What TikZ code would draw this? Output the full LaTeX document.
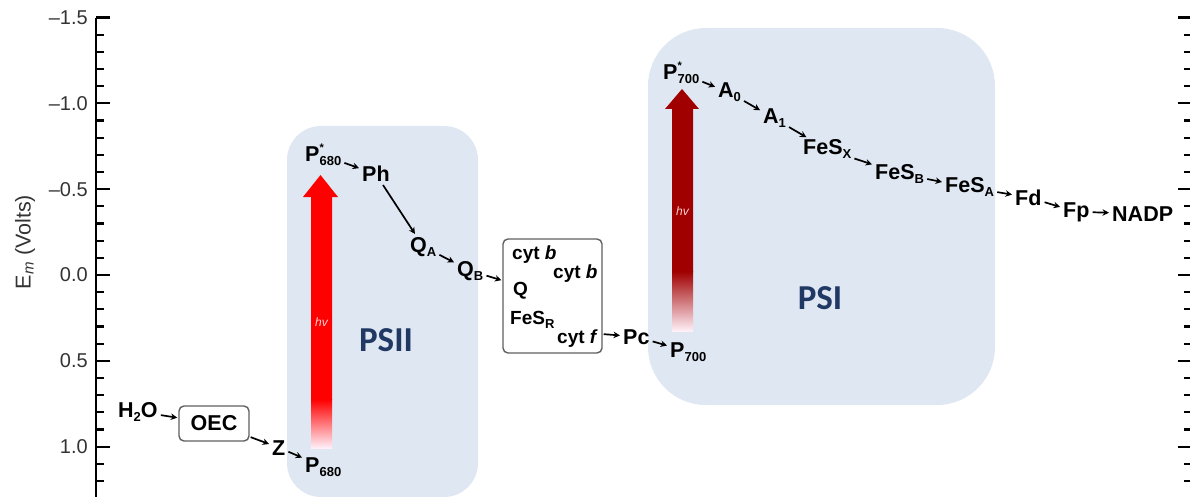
\documentclass[tikz,border=0pt]{standalone}
\usepackage{fontspec}
\setmainfont{Liberation Sans}
\newfontfamily\psfont{Carlito}
\usetikzlibrary{arrows.meta}
\definecolor{psbox}{HTML}{DFE7F2}
\definecolor{pslabel}{HTML}{203864}
\definecolor{redA}{HTML}{FF0000}
\definecolor{redB}{HTML}{A00000}
\definecolor{fadeend}{HTML}{FFF0F8}
\definecolor{axisgray}{HTML}{333333}
\definecolor{boxline}{HTML}{606060}
% subscript and starred-subscript helpers for the carrier labels
\newcommand\sbs[1]{\raisebox{-4pt}{\fontsize{13}{13}\selectfont #1}}
\newcommand\stsbs[1]{\rlap{\raisebox{10pt}{\fontsize{11}{11}\selectfont *}}\raisebox{-4pt}{\fontsize{13}{13}\selectfont #1}}
\begin{document}
\begin{tikzpicture}[x=1pt,y=-1pt,
  lbl/.style={font=\fontsize{21.5}{24}\selectfont\bfseries, inner sep=2pt, anchor=base west},
  inlbl/.style={font=\fontsize{19}{22}\selectfont\bfseries, inner sep=1pt, anchor=base west},
  arr/.style={-{Stealth[length=6.5pt,width=6.5pt]}, line width=1.7pt, shorten <=1pt, shorten >=1pt},
  axis/.style={line width=2.2pt, black},
  ticklbl/.style={anchor=east, text=axisgray, font=\fontsize{20}{22}\selectfont, inner sep=0pt},
  framebox/.style={draw=boxline, line width=1.4pt, rounded corners=5pt, fill=white},
  pslbl/.style={font=\psfont\bfseries\fontsize{35}{40}\selectfont, text=pslabel},
  hnu/.style={font=\fontsize{12}{14}\selectfont\itshape, text=pink!70!white}
]
\useasboundingbox (0,0) rectangle (1190,497);

% photosystem panels
\fill[psbox, rounded corners=34pt] (287,126) rectangle (478,497);
\fill[psbox, rounded corners=58pt] (648,28) rectangle (995,405);
\node[pslbl] (psii) at (386,340) {PSII};
\node[pslbl] (psi) at (820,298) {PSI};

% potential axes
\draw[axis] (96,17.6) -- (96,497);
\draw[axis] (1191,0) -- (1191,497);
\foreach \i in {0,...,28}{
  \pgfmathsetmacro\yy{17.6+17.16*\i}
  \pgfmathtruncatemacro\mj{mod(\i,5)==0 ? 1 : 0}
  \ifnum\mj=1
    \draw[axis] (96,\yy) -- (110,\yy);
    \draw[axis] (1178,\yy) -- (1190,\yy);
  \else
    \draw[axis] (96,\yy) -- (104,\yy);
    \draw[axis] (1184,\yy) -- (1190,\yy);
  \fi
}
\node[ticklbl] (tA) at (88,17.6) {--1.5};
\node[ticklbl] (tB) at (88,103.4) {--1.0};
\node[ticklbl] (tC) at (88,189.2) {--0.5};
\node[ticklbl] (tD) at (88,275) {0.0};
\node[ticklbl] (tE) at (88,360.8) {0.5};
\node[ticklbl] (tF) at (88,446.6) {1.0};
\node[rotate=90, text=axisgray, font=\fontsize{21.5}{24}\selectfont] (ylab) at (25,242) {E\textsubscript{\textit{m}} (Volts)};

% light-driven excitation arrows
\fill[redA] (311,400) -- (311,197) -- (303,197) -- (320.5,175) -- (338,197) -- (332,197) -- (332,400) -- cycle;
\shade[top color=redA, bottom color=fadeend] (311,399.5) rectangle (332,448);
\node[hnu] (hv1) at (321.5,322) {hv};
\fill[redB] (672,272) -- (672,109) -- (665,109) -- (682,89) -- (699,109) -- (693,109) -- (693,272) -- cycle;
\shade[top color=redB, bottom color=fadeend] (672,271.5) rectangle (693,331);
\node[hnu] (hv2) at (682.5,211) {hv};

% water side and PSII
\node[lbl] (h2o) at (116,417) {H\sbs{2}O};
\node[framebox, minimum width=70pt, minimum height=35pt, font=\fontsize{21.5}{24}\selectfont\bfseries] (oec) at (214,423.5) {OEC};
\node[lbl] (z) at (270,455) {Z};
\node[lbl] (p680) at (303,472) {P\sbs{680}};
\node[lbl] (p680s) at (303,162) {P\stsbs{680}};
\node[lbl] (ph) at (360,182) {Ph};
\node[lbl] (qa) at (408,252) {Q\sbs{A}};
\node[lbl] (qb) at (455,276) {Q\sbs{B}};

% cytochrome complex
\node[framebox, minimum width=99pt, minimum height=114pt] (cyt) at (552.5,296) {};
\node[inlbl] (cytb1) at (511,259) {cyt \textit{b}};
\node[inlbl] (cytb2) at (552,278) {cyt \textit{b}};
\node[inlbl] (cq) at (512,295) {Q};
\node[inlbl] (fesr) at (509,324) {FeS\sbs{R}};
\node[inlbl] (cytf) at (556,343) {cyt \textit{f}};
\node[lbl] (pc) at (621,344) {Pc};

% PSI and the acceptor side
\node[lbl] (p700) at (668,357) {P\sbs{700}};
\node[lbl] (p700s) at (661,80) {P\stsbs{700}};
\node[lbl] (a0) at (716,98) {A\sbs{0}};
\node[lbl] (a1) at (761,124) {A\sbs{1}};
\node[lbl] (fesx) at (801,155) {FeS\sbs{X}};
\node[lbl] (fesb) at (873,179) {FeS\sbs{B}};
\node[lbl] (fesa) at (943,193) {FeS\sbs{A}};
\node[lbl] (fd) at (1013,205) {Fd};
\node[lbl] (fp) at (1061,217) {Fp};
\node[lbl] (nadp) at (1110,221) {NADP};

% electron transfer steps
\draw[arr] (h2o) -- (oec);
\draw[arr] (oec) -- (z);
\draw[arr] (z) -- (p680);
\draw[arr] (p680s) -- (ph);
\draw[arr] (ph) -- (qa);
\draw[arr] (qa) -- (qb);
\draw[arr] (qb) -- (cyt);
\draw[arr] ([yshift=4pt]cyt.east |- cytf.center) -- (pc);
\draw[arr] (pc) -- (p700);
\draw[arr] (p700s) -- (a0);
\draw[arr] (a0) -- (a1);
\draw[arr] (a1) -- (fesx);
\draw[arr] (fesx) -- (fesb);
\draw[arr] (fesb) -- (fesa);
\draw[arr] (fesa) -- (fd);
\draw[arr] (fd) -- (fp);
\draw[arr] (fp) -- (nadp);
\end{tikzpicture}
\end{document}
